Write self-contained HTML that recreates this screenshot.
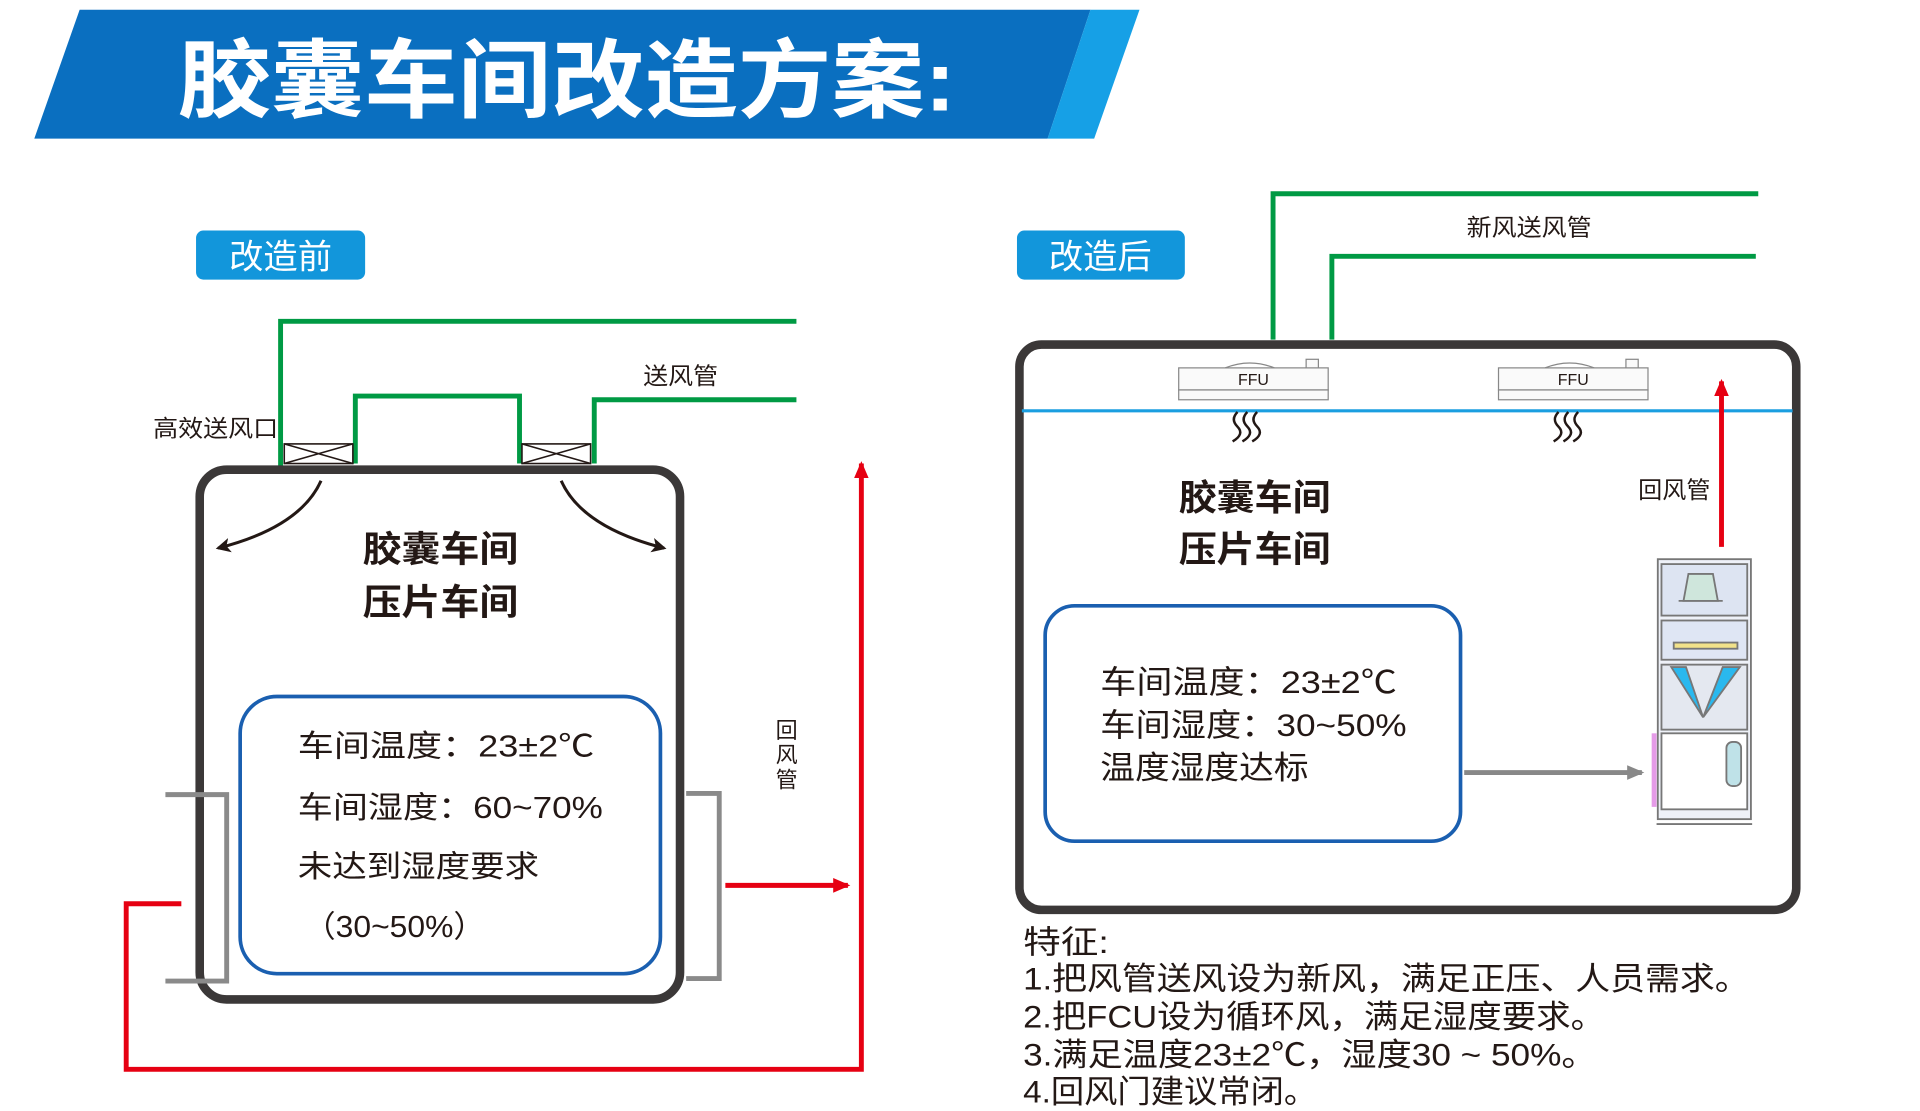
<!DOCTYPE html>
<html><head><meta charset="utf-8"><style>
html,body{margin:0;padding:0;background:#fff;overflow:hidden}
svg{display:block}
text{font-family:"Liberation Sans","Noto Sans CJK SC",sans-serif}
</style></head><body>
<svg width="1920" height="1111" viewBox="0 0 1567 906" preserveAspectRatio="none" xmlns="http://www.w3.org/2000/svg">
<defs>
<marker id="ab" markerWidth="12" markerHeight="12" refX="10" refY="6" orient="auto" markerUnits="userSpaceOnUse"><path d="M0,0 L12,6 L0,12 L3,6 z" fill="#231815"/></marker>
<marker id="ar" markerWidth="14" markerHeight="14" refX="12" refY="7" orient="auto" markerUnits="userSpaceOnUse"><path d="M0,1 L14,7 L0,13 z" fill="#e60012"/></marker>
<marker id="ag" markerWidth="14" markerHeight="14" refX="12" refY="7" orient="auto" markerUnits="userSpaceOnUse"><path d="M0,1 L14,7 L0,13 z" fill="#888"/></marker>
</defs>
<!-- banner -->
<polygon points="65,8 890,8 855,113 28,113" fill="#0a6fc0"/>
<polygon points="890,8 930,8 893,113 855,113" fill="#16a0e6"/>
<text x="145" y="90" font-size="70" font-weight="bold" fill="#fff" textLength="635" lengthAdjust="spacingAndGlyphs">胶囊车间改造方案:</text>
<!-- badges -->
<rect x="160" y="188" width="138" height="40" rx="6" fill="#1296db"/>
<text x="229" y="219" font-size="28" fill="#fff" text-anchor="middle">改造前</text>
<rect x="830" y="188" width="137" height="40" rx="6" fill="#1296db"/>
<text x="898" y="219" font-size="28" fill="#fff" text-anchor="middle">改造后</text>

<!-- LEFT -->
<g fill="none" stroke="#009a44" stroke-width="4">
<polyline points="229,380 229,262 650,262"/>
<polyline points="290,378 290,323 424,323 424,378"/>
<polyline points="485,378 485,326 650,326"/>
</g>
<g stroke="#231815" stroke-width="1.3" fill="#fff">
<rect x="232" y="362" width="56" height="16"/><line x1="232" y1="362" x2="288" y2="378"/><line x1="232" y1="378" x2="288" y2="362"/>
<rect x="426" y="362" width="56" height="16"/><line x1="426" y1="362" x2="482" y2="378"/><line x1="426" y1="378" x2="482" y2="362"/>
</g>
<text x="125" y="356" font-size="19" fill="#231815" textLength="102" lengthAdjust="spacingAndGlyphs">高效送风口</text>
<text x="525" y="313" font-size="19" fill="#231815" textLength="61" lengthAdjust="spacingAndGlyphs">送风管</text>
<rect x="163" y="383" width="392" height="432" rx="22" fill="none" stroke="#3b3838" stroke-width="7"/>
<path d="M262,392 Q245,430 178,447" fill="none" stroke="#231815" stroke-width="2.5" marker-end="url(#ab)"/>
<path d="M458,392 Q475,430 542,447" fill="none" stroke="#231815" stroke-width="2.5" marker-end="url(#ab)"/>
<text x="296" y="458" font-size="29" font-weight="bold" fill="#231815" textLength="127" lengthAdjust="spacingAndGlyphs">胶囊车间</text>
<text x="296" y="501" font-size="29" font-weight="bold" fill="#231815" textLength="127" lengthAdjust="spacingAndGlyphs">压片车间</text>
<rect x="196" y="568" width="343" height="226" rx="30" fill="none" stroke="#1a5fb0" stroke-width="3"/>
<g font-size="25" fill="#231815">
<text x="243" y="617" textLength="242" lengthAdjust="spacingAndGlyphs">车间温度：23±2℃</text>
<text x="243" y="667" textLength="249" lengthAdjust="spacingAndGlyphs">车间湿度：60~70%</text>
<text x="243" y="715" textLength="197" lengthAdjust="spacingAndGlyphs">未达到湿度要求</text>
<text x="248" y="764" textLength="148" lengthAdjust="spacingAndGlyphs">（30~50%）</text>
</g>
<g fill="none" stroke="#8a8a8a" stroke-width="4">
<polyline points="135,648 185,648 185,800 135,800"/>
<polyline points="560,647 587,647 587,798 560,798"/>
</g>
<polyline points="148,737 103,737 103,872 703,872 703,378" fill="none" stroke="#e60012" stroke-width="4" marker-end="url(#ar)"/>
<line x1="592" y1="722" x2="692" y2="722" stroke="#e60012" stroke-width="4" marker-end="url(#ar)"/>
<g font-size="18" fill="#231815" text-anchor="middle">
<text x="642" y="602">回</text><text x="642" y="622">风</text><text x="642" y="642">管</text>
</g>

<!-- RIGHT -->
<g fill="none" stroke="#009a44" stroke-width="4">
<polyline points="1039,277 1039,158 1435,158"/>
<polyline points="1087,277 1087,209 1433,209"/>
</g>
<text x="1197" y="192" font-size="19" fill="#231815" textLength="102" lengthAdjust="spacingAndGlyphs">新风送风管</text>
<rect x="832" y="281" width="634" height="461" rx="18" fill="none" stroke="#3b3838" stroke-width="7"/>
<line x1="834" y1="335" x2="1463" y2="335" stroke="#1a9ee0" stroke-width="2.5"/>
<g stroke="#888" stroke-width="1" fill="#fafafa">
<rect x="962" y="300" width="122" height="18"/>
<rect x="962" y="318" width="122" height="8"/>
<path d="M1000,300 Q1020,292 1040,300" fill="none"/>
<rect x="1066" y="293" width="10" height="7"/>
<text x="1023" y="314" font-size="13" fill="#231815" stroke="none" text-anchor="middle">FFU</text>
</g>
<g stroke="#888" stroke-width="1" fill="#fafafa">
<rect x="1223" y="300" width="122" height="18"/>
<rect x="1223" y="318" width="122" height="8"/>
<path d="M1261,300 Q1281,292 1301,300" fill="none"/>
<rect x="1327" y="293" width="10" height="7"/>
<text x="1284" y="314" font-size="13" fill="#231815" stroke="none" text-anchor="middle">FFU</text>
</g>
<g fill="none" stroke="#231815" stroke-width="2">
<path d="M1010,336 q-6,6 0,12 q6,6 -4,12"/><path d="M1018,336 q-6,6 0,12 q6,6 -4,12"/><path d="M1026,336 q-6,6 0,12 q6,6 -4,12"/>
<path d="M1272,336 q-6,6 0,12 q6,6 -4,12"/><path d="M1280,336 q-6,6 0,12 q6,6 -4,12"/><path d="M1288,336 q-6,6 0,12 q6,6 -4,12"/>
</g>
<text x="962" y="416" font-size="29" font-weight="bold" fill="#231815" textLength="124" lengthAdjust="spacingAndGlyphs">胶囊车间</text>
<text x="962" y="458" font-size="29" font-weight="bold" fill="#231815" textLength="124" lengthAdjust="spacingAndGlyphs">压片车间</text>
<text x="1337" y="406" font-size="19" fill="#231815" textLength="59" lengthAdjust="spacingAndGlyphs">回风管</text>
<line x1="1405" y1="446" x2="1405" y2="311" stroke="#e60012" stroke-width="4" marker-end="url(#ar)"/>
<rect x="853" y="494" width="339" height="192" rx="24" fill="none" stroke="#1a5fb0" stroke-width="3"/>
<g font-size="26" fill="#231815">
<text x="898" y="565" textLength="242" lengthAdjust="spacingAndGlyphs">车间温度：23±2℃</text>
<text x="898" y="600" textLength="250" lengthAdjust="spacingAndGlyphs">车间湿度：30~50%</text>
<text x="898" y="635" textLength="170" lengthAdjust="spacingAndGlyphs">温度湿度达标</text>
</g>
<line x1="1195" y1="630" x2="1340" y2="630" stroke="#888" stroke-width="4" marker-end="url(#ag)"/>
<!-- AHU -->
<g stroke="#777" stroke-width="1.5">
<rect x="1353" y="456" width="76" height="212" fill="#eef1f8"/>
<rect x="1356" y="460" width="70" height="42" fill="#dde4f2"/>
<polygon points="1378,468 1398,468 1402,490 1374,490" fill="#cfe6dc"/>
<line x1="1370" y1="490" x2="1406" y2="490"/>
<rect x="1356" y="506" width="70" height="32" fill="#dfe6f4"/>
<rect x="1366" y="524" width="52" height="5" fill="#f2e28a"/>
<rect x="1356" y="542" width="70" height="53" fill="#e4e8f0"/>
<polygon points="1364,544 1376,544 1390,585" fill="#2ab8ee"/>
<polygon points="1420,544 1406,544 1390,585" fill="#2ab8ee"/>
<rect x="1356" y="598" width="70" height="62" fill="#fff"/>
<rect x="1409" y="605" width="12" height="36" rx="5" fill="#bfe2e8"/>
<rect x="1348" y="598" width="4" height="60" fill="#e59be8" stroke="none"/>
<line x1="1352" y1="672" x2="1430" y2="672"/>
</g>
<!-- features -->
<g font-size="26" fill="#231815">
<text x="835" y="777" textLength="70" lengthAdjust="spacingAndGlyphs">特征:</text>
<text x="835" y="807" textLength="593" lengthAdjust="spacingAndGlyphs">1.把风管送风设为新风，满足正压、人员需求。</text>
<text x="835" y="838" textLength="475" lengthAdjust="spacingAndGlyphs">2.把FCU设为循环风，满足湿度要求。</text>
<text x="835" y="869" textLength="468" lengthAdjust="spacingAndGlyphs">3.满足温度23±2℃，湿度30 ~ 50%。</text>
<text x="835" y="899" textLength="240" lengthAdjust="spacingAndGlyphs">4.回风门建议常闭。</text>
</g>
</svg>
</body></html>
